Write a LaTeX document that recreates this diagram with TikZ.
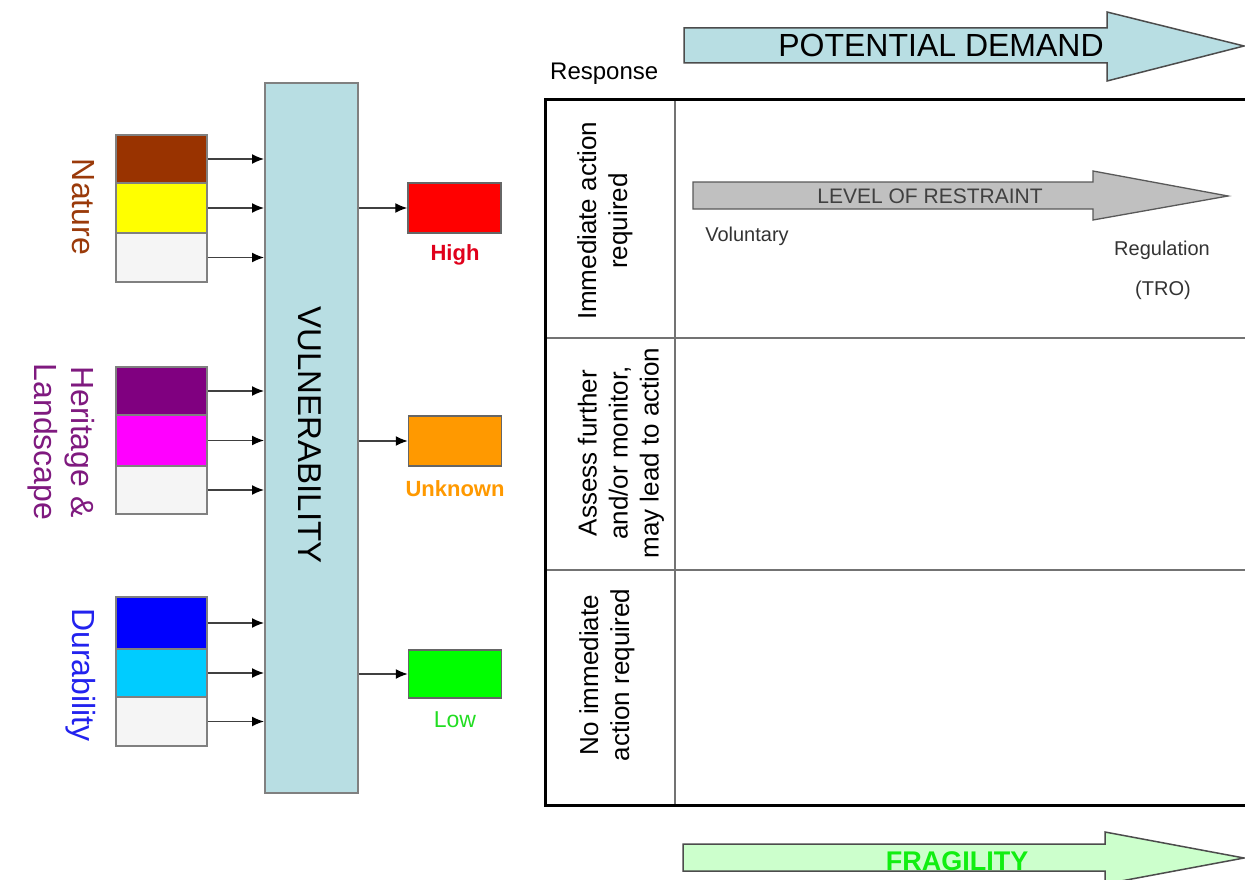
\documentclass[tikz,border=0pt]{standalone}
\usepackage{fontspec}
\setmainfont{Liberation Sans}
\usetikzlibrary{arrows.meta}
\definecolor{vulblue}{HTML}{B8DEE3}
\definecolor{natbrown}{HTML}{993300}
\definecolor{natyellow}{HTML}{FFFF00}
\definecolor{offwhite}{HTML}{F5F5F5}
\definecolor{herpurple}{HTML}{800080}
\definecolor{hermagenta}{HTML}{FF00FF}
\definecolor{durblue}{HTML}{0000FF}
\definecolor{durcyan}{HTML}{00CCFF}
\definecolor{highred}{HTML}{FF0000}
\definecolor{unkorange}{HTML}{FF9900}
\definecolor{lowgreen}{HTML}{00FF00}
\definecolor{txtbrown}{HTML}{9A3A0A}
\definecolor{txtpurple}{HTML}{7F1A7F}
\definecolor{txtblue}{HTML}{2222EE}
\definecolor{txtred}{HTML}{E0001B}
\definecolor{txtgreen}{HTML}{22DD22}
\definecolor{fraggreen}{HTML}{CCFFCC}
\definecolor{fragtext}{HTML}{11EE11}
\definecolor{restgray}{HTML}{C0C0C0}
\begin{document}
\begin{tikzpicture}[x=1pt,y=-1pt,
  stackbox/.style={draw=black!50, line width=1.5pt, inner sep=0pt, minimum width=91pt},
  levelbox/.style={draw=black!60, line width=1.5pt, inner sep=0pt, minimum width=93pt, minimum height=50pt},
  conn/.style={draw=black!75, line width=1.4pt, -{Latex[length=12pt,width=10pt,fill=black,color=black]}},
  sidelabel/.style={rotate=-90, font=\fontsize{32}{37}\selectfont, align=center, inner sep=0pt},
  levellabel/.style={anchor=base, inner sep=0pt, font=\fontsize{22}{26}\selectfont},
  rowlabel/.style={rotate=90, font=\fontsize{26}{31}\selectfont, align=center, inner sep=0pt},
  smalltext/.style={inner sep=0pt, text=black!80, font=\fontsize{20}{24}\selectfont},
  bigarrow/.style={draw=black!70, line width=1.5pt, line join=miter}
]
\useasboundingbox (0,0) rectangle (1245,880);

% ---------- left: criteria stacks ----------
\node[stackbox, fill=natbrown,  minimum height=48pt] (n1) at (161.5,159) {};
\node[stackbox, fill=natyellow, minimum height=50pt] (n2) at (161.5,208) {};
\node[stackbox, fill=offwhite,  minimum height=49pt] (n3) at (161.5,257.5) {};

\node[stackbox, fill=herpurple,  minimum height=48pt] (h1) at (161.5,391) {};
\node[stackbox, fill=hermagenta, minimum height=51pt] (h2) at (161.5,440.5) {};
\node[stackbox, fill=offwhite,   minimum height=48pt] (h3) at (161.5,490) {};

\node[stackbox, fill=durblue,  minimum height=52pt] (d1) at (161.5,623) {};
\node[stackbox, fill=durcyan,  minimum height=48pt] (d2) at (161.5,673) {};
\node[stackbox, fill=offwhite, minimum height=49pt] (d3) at (161.5,721.5) {};

\node[sidelabel, anchor=base, text=txtbrown] (natlab) at (72,207) {Nature};
\node[sidelabel, anchor=center, text=txtpurple] (herlab) at (61.5,442) {Heritage \&\\Landscape};
\node[sidelabel, anchor=base, text=txtblue] (durlab) at (72,675) {Durability};

% ---------- vulnerability ----------
\node[draw=black!50, line width=2pt, fill=vulblue, minimum width=93pt, minimum height=710pt, inner sep=0pt] (vul) at (311.5,438) {};
\node[rotate=-90, anchor=base, inner sep=0pt, font=\fontsize{33}{38}\selectfont] (vullab) at (298,435) {VULNERABILITY};

\foreach \s in {n1,n2,n3,h1,h2,h3,d1,d2,d3}{
  \draw[conn] (\s.east) -- (vul.west |- \s.east);
}

% ---------- levels ----------
\node[levelbox, fill=highred]   (high) at (454.5,208) {};
\node[levelbox, fill=unkorange] (unk)  at (455,441) {};
\node[levelbox, fill=lowgreen, minimum height=48pt] (low) at (455,674) {};

\draw[conn] (vul.east |- high.west) -- (high.west);
\draw[conn] (vul.east |- unk.west) -- (unk.west);
\draw[conn] (vul.east |- low.west) -- (low.west);

\node[levellabel, text=txtred, font=\bfseries\fontsize{22}{26}\selectfont] (highlab) at (455,260) {High};
\node[levellabel, text=unkorange, font=\bfseries\fontsize{22}{26}\selectfont] (unklab) at (455,496) {Unknown};
\node[levellabel, text=txtgreen, font=\fontsize{23}{27}\selectfont] (lowlab) at (455,727) {Low};

% ---------- potential demand arrow ----------
\draw[bigarrow, fill=vulblue] (684,28) -- (1107,28) -- (1107,12) -- (1244,46) -- (1107,81) -- (1107,63) -- (684,63) -- cycle;
\node[anchor=base, inner sep=0pt, font=\fontsize{32}{36}\selectfont] (pdlab) at (941,57) {POTENTIAL DEMAND};

\node[anchor=base west, inner sep=0pt, font=\fontsize{24}{28}\selectfont] (resp) at (550,80) {Response};

% ---------- table ----------
\draw[black!55, line width=1.5pt] (675,100) -- (675,805);
\draw[black!55, line width=1.5pt] (545,338) -- (1245,338);
\draw[black!55, line width=1.5pt] (545,570) -- (1245,570);
\draw[black, line width=3pt] (1245,100) -- (545,100) -- (545,805) -- (1245,805);

\node[rowlabel] (r1) at (605,221) {Immediate action\\required};
\node[rowlabel] (r2) at (621,453) {Assess further\\and/or monitor,\\may lead to action};
\node[rowlabel] (r3) at (607,675) {No immediate\\action required};

% ---------- level of restraint ----------
\draw[draw=black!65, line width=1.3pt, fill=restgray] (693,182) -- (1093,182) -- (1093,171) -- (1228,196) -- (1093,220) -- (1093,209) -- (693,209) -- cycle;
\node[anchor=base, inner sep=0pt, text=black!75, font=\fontsize{21}{25}\selectfont] (rest) at (930,204) {LEVEL OF RESTRAINT};
\node[smalltext] (vol) at (747,236) {Voluntary};
\node[smalltext] (reg) at (1162,250) {Regulation};
\node[smalltext] (tro) at (1163,290) {(TRO)};

% ---------- fragility arrow ----------
\draw[bigarrow, fill=fraggreen] (683,844) -- (1105,844) -- (1105,832) -- (1244,858) -- (1105,884) -- (1105,871) -- (683,871) -- cycle;
\node[anchor=base, inner sep=0pt, text=fragtext, font=\bfseries\fontsize{27}{30}\selectfont] (fraglab) at (957,870) {FRAGILITY};
\end{tikzpicture}
\end{document}
